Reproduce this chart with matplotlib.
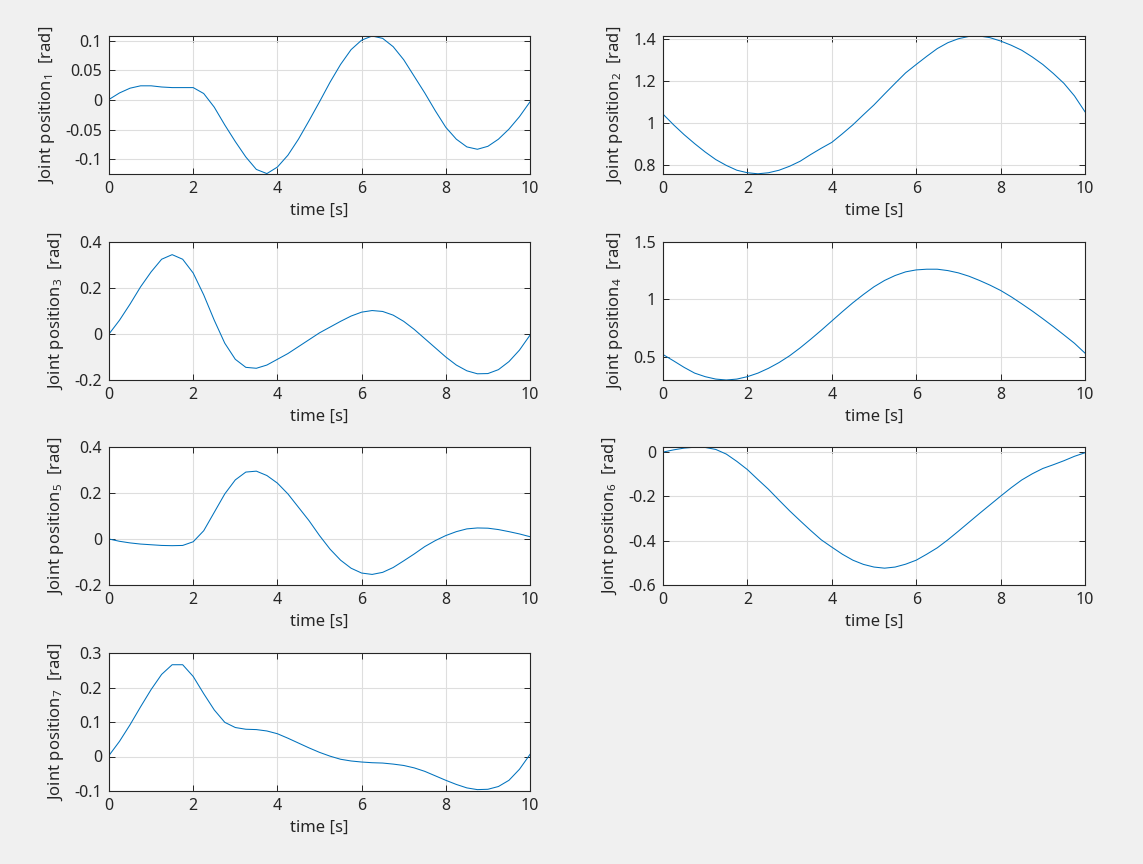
import numpy as np
import matplotlib
matplotlib.use("Agg")
import matplotlib.pyplot as plt

plt.rcParams['font.family'] = ['Noto Sans', 'DejaVu Sans']
plt.rcParams['mathtext.default'] = 'regular'
plt.rcParams['axes.unicode_minus'] = False

# time samples, every 0.25 s
time = np.linspace(0, 10, 41)

q1 = [0.001, 0.012, 0.020, 0.024, 0.024, 0.022, 0.021, 0.021, 0.021, 0.011,
      -0.012, -0.042, -0.070, -0.096, -0.117, -0.124, -0.113, -0.093, -0.066, -0.035,
      -0.003, 0.030, 0.060, 0.085, 0.101, 0.108, 0.104, 0.090, 0.068, 0.040,
      0.012, -0.018, -0.046, -0.066, -0.079, -0.083, -0.078, -0.066, -0.049, -0.028,
      -0.003]
q2 = [1.043, 0.992, 0.945, 0.902, 0.862, 0.826, 0.798, 0.775, 0.763, 0.758,
      0.763, 0.775, 0.794, 0.818, 0.850, 0.880, 0.908, 0.949, 0.992, 1.040,
      1.087, 1.139, 1.190, 1.240, 1.280, 1.319, 1.356, 1.384, 1.403, 1.414,
      1.416, 1.408, 1.392, 1.372, 1.348, 1.316, 1.280, 1.237, 1.190, 1.130,
      1.054]
q3 = [0.000, 0.060, 0.130, 0.205, 0.270, 0.325, 0.345, 0.325, 0.265, 0.170,
      0.060, -0.040, -0.110, -0.145, -0.149, -0.135, -0.110, -0.085, -0.055, -0.025,
      0.005, 0.030, 0.055, 0.078, 0.095, 0.102, 0.098, 0.082, 0.055, 0.020,
      -0.020, -0.060, -0.100, -0.135, -0.160, -0.173, -0.172, -0.155, -0.120, -0.070,
      -0.005]
q4 = [0.520, 0.465, 0.408, 0.358, 0.327, 0.306, 0.298, 0.306, 0.327, 0.358,
      0.400, 0.450, 0.509, 0.578, 0.653, 0.731, 0.812, 0.893, 0.971, 1.043,
      1.110, 1.165, 1.208, 1.240, 1.257, 1.263, 1.263, 1.251, 1.231, 1.202,
      1.165, 1.124, 1.078, 1.023, 0.962, 0.899, 0.832, 0.763, 0.691, 0.618,
      0.532]
q5 = [0.000, -0.010, -0.017, -0.022, -0.025, -0.028, -0.029, -0.028, -0.012, 0.036,
      0.116, 0.196, 0.257, 0.291, 0.295, 0.276, 0.243, 0.196, 0.138, 0.080,
      0.015, -0.044, -0.092, -0.127, -0.148, -0.154, -0.145, -0.124, -0.095, -0.065,
      -0.033, -0.007, 0.015, 0.032, 0.044, 0.048, 0.047, 0.041, 0.032, 0.022,
      0.010]
q6 = [0.000, 0.010, 0.018, 0.022, 0.021, 0.012, -0.009, -0.042, -0.079, -0.124,
      -0.168, -0.217, -0.265, -0.310, -0.354, -0.396, -0.429, -0.461, -0.488, -0.507,
      -0.519, -0.524, -0.519, -0.506, -0.488, -0.461, -0.432, -0.396, -0.357, -0.317,
      -0.277, -0.238, -0.199, -0.161, -0.126, -0.098, -0.074, -0.057, -0.039, -0.019,
      -0.003]
q7 = [0.003, 0.044, 0.092, 0.144, 0.194, 0.238, 0.266, 0.266, 0.232, 0.182,
      0.135, 0.099, 0.084, 0.079, 0.078, 0.074, 0.066, 0.053, 0.039, 0.025,
      0.012, 0.001, -0.008, -0.013, -0.016, -0.018, -0.019, -0.022, -0.026, -0.033,
      -0.043, -0.056, -0.069, -0.081, -0.091, -0.096, -0.095, -0.087, -0.069, -0.037,
      0.006]

joints = [q1, q2, q3, q4, q5, q6, q7]
ylims = [(-0.1247, 0.108), (0.757, 1.416), (-0.2, 0.4), (0.298, 1.5),
         (-0.2, 0.4), (-0.6, 0.023), (-0.1, 0.3)]
yticks = [[-0.1, -0.05, 0, 0.05, 0.1], [0.8, 1, 1.2, 1.4], [-0.2, 0, 0.2, 0.4],
          [0.5, 1, 1.5], [-0.2, 0, 0.2, 0.4], [-0.6, -0.4, -0.2, 0],
          [-0.1, 0, 0.1, 0.2, 0.3]]

W, H = 1143, 864
fig = plt.figure(figsize=(W / 100, H / 100), dpi=100, facecolor='#f0f0f0')

col_x = [109, 663]
col_w = [421, 422]
row_top = [36, 242, 447, 653]
ax_h = 138

txt = '#262626'
for i, q in enumerate(joints):
    r, c = divmod(i, 2)
    ax = fig.add_axes([col_x[c] / W, 1 - (row_top[r] + ax_h) / H,
                       col_w[c] / W, ax_h / H])
    ax.plot(time, q, color='#0072BD', lw=0.75)
    ax.set_xlim(0, 10)
    ax.set_ylim(*ylims[i])
    ax.set_xticks([0, 2, 4, 6, 8, 10])
    ax.set_yticks(yticks[i])
    ax.set_yticklabels(['%g' % v for v in yticks[i]])
    ax.grid(True, color='#dedede', lw=0.8)
    ax.set_axisbelow(True)
    ax.tick_params(direction='in', top=True, right=True, length=4,
                   width=0.7, colors=txt, labelsize=11.5, pad=5)
    for s in ax.spines.values():
        s.set_color(txt)
        s.set_linewidth(0.8)
    ax.set_xlabel('time [s]', fontsize=12, color=txt, labelpad=4)
    ax.set_ylabel('Joint position$_%d$  [rad]' % (i + 1), fontsize=12,
                  color=txt, labelpad=6)

fig.savefig('out.png', dpi=100, facecolor=fig.get_facecolor())
